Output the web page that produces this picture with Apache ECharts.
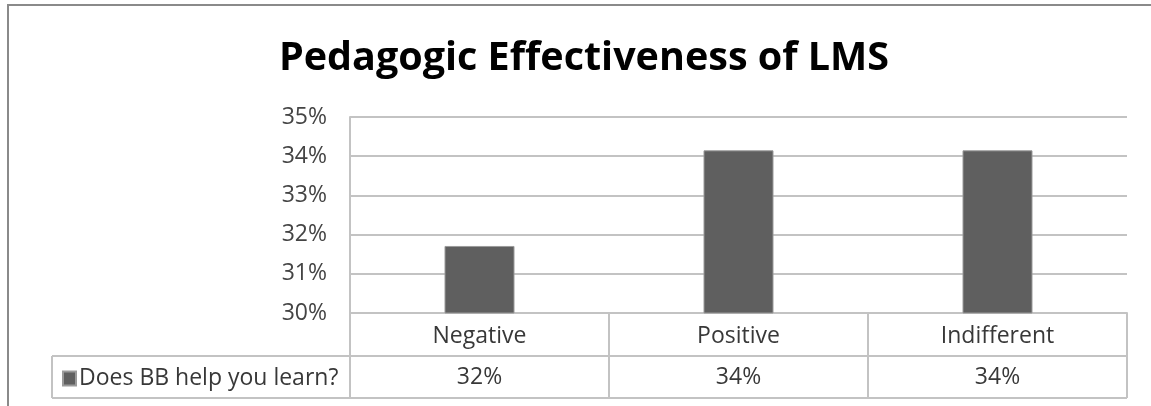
<!DOCTYPE html>
<html>
<head>
<meta charset="utf-8">
<script src="https://cdn.jsdelivr.net/npm/echarts@6/dist/echarts.min.js"></script>
<style>
html,body{margin:0;padding:0;background:#fff;}
#c{width:1151px;height:406px;}
</style>
</head>
<body>
<div id="c"></div>
<script>
const categories = ['Negative', 'Positive', 'Indifferent'];
const seriesName = 'Does BB help you learn?';
const values = [31.71, 34.15, 34.15];
const yTicks = [30, 31, 32, 33, 34, 35];
const titleText = 'Pedagogic Effectiveness of LMS';

const W = 1151, H = 406;
const gLeft = 350, gRight = 24, gTop = 117, gBottom = 93;
const plotBottom = H - gBottom;      // 313
const rowLine = plotBottom + 43;     // 356
const tableBottom = plotBottom + 85; // 398
const legendLeft = 52;
const lineCol = '#c3c3c3';
const font = 'Open Sans';
const fs = 23;

const tableLabels = values.map(v => Math.round(v) + '%');

const chart = echarts.init(document.getElementById('c'), null, {renderer: 'canvas'});
chart.setOption({
  animation: false,
  backgroundColor: '#fff',
  title: {
    text: titleText,
    left: 579,
    textAlign: 'center',
    top: 34,
    textStyle: {fontFamily: font, fontWeight: 'bold', fontSize: 39.5, color: '#000'}
  },
  legend: {
    data: [seriesName],
    left: 57,
    top: 362,
    icon: 'rect',
    itemWidth: 13,
    itemHeight: 14,
    itemGap: 0,
    textStyle: {fontFamily: font, fontSize: fs, color: '#383838', padding: [0, 0, 0, -2]}
  },
  grid: {left: gLeft, right: gRight, top: gTop, bottom: gBottom, containLabel: false},
  xAxis: [{
    type: 'category',
    data: categories,
    axisLine: {show: true, lineStyle: {color: lineCol, width: 2}},
    axisTick: {show: true, length: 85, interval: 0, lineStyle: {color: lineCol, width: 2}},
    axisLabel: {fontFamily: font, fontSize: fs, color: '#383838', margin: 12, interval: 0},
    splitLine: {show: false}
  }, {
    type: 'category',
    data: tableLabels,
    position: 'bottom',
    offset: 43,
    axisLine: {show: true, lineStyle: {color: lineCol, width: 2}},
    axisTick: {show: false},
    axisLabel: {fontFamily: font, fontSize: fs, color: '#383838', margin: 10, interval: 0}
  }],
  yAxis: {
    type: 'value',
    min: 30,
    max: 35,
    interval: 1,
    axisLine: {show: true, lineStyle: {color: lineCol, width: 2}},
    axisTick: {show: false},
    axisLabel: {fontFamily: font, fontSize: fs, color: '#444', margin: 23, formatter: '{value}%'},
    splitLine: {show: true, lineStyle: {color: lineCol, width: 2}}
  },
  series: [{
    name: seriesName,
    type: 'bar',
    data: values,
    barWidth: 70,
    itemStyle: {color: '#5f5f5f', borderColor: '#9a9a9a', borderWidth: 1}
  }],
  graphic: [
    {type: 'rect', shape: {x: 8, y: 5, width: W + 20, height: H + 20},
     style: {fill: null, stroke: '#8a8a8a', lineWidth: 2}, silent: true},
    {type: 'line', shape: {x1: legendLeft, y1: rowLine, x2: gLeft, y2: rowLine},
     style: {stroke: lineCol, lineWidth: 2}, silent: true},
    {type: 'line', shape: {x1: legendLeft, y1: rowLine, x2: legendLeft, y2: tableBottom},
     style: {stroke: lineCol, lineWidth: 2}, silent: true},
    {type: 'line', shape: {x1: legendLeft, y1: tableBottom, x2: W - gRight, y2: tableBottom},
     style: {stroke: lineCol, lineWidth: 2}, silent: true},
    {type: 'line', shape: {x1: W - gRight, y1: plotBottom, x2: W - gRight, y2: tableBottom},
     style: {stroke: lineCol, lineWidth: 2}, silent: true}
  ]
});
</script>
</body>
</html>
